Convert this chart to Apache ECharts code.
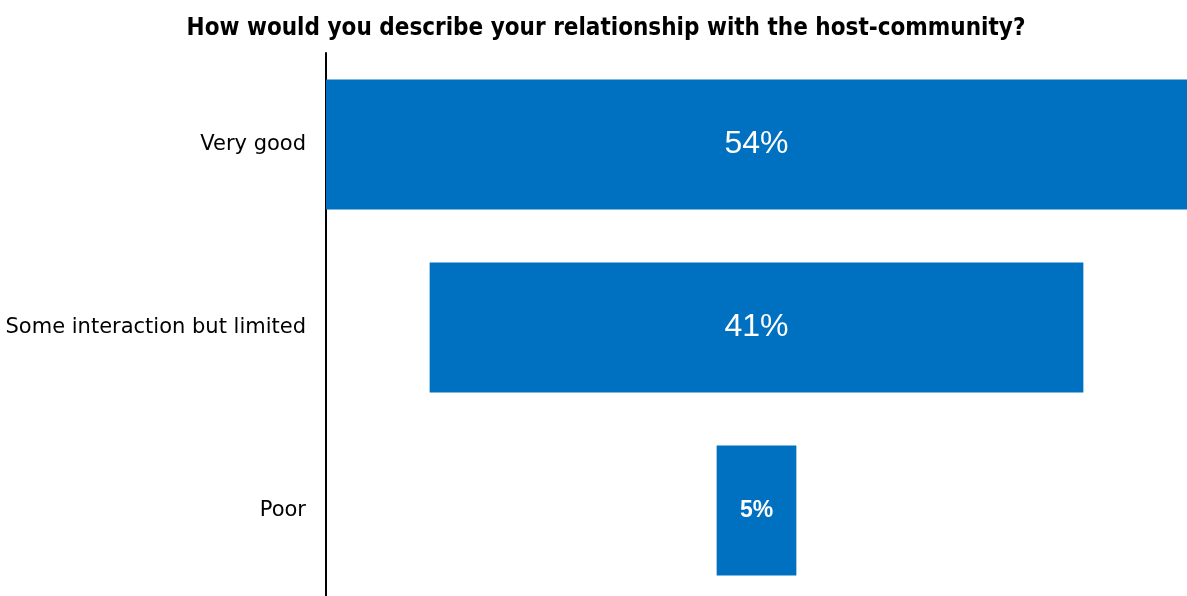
<!DOCTYPE html>
<html>
<head>
<meta charset="utf-8">
<script src="https://cdn.jsdelivr.net/npm/echarts@6/dist/echarts.min.js"></script>
<style>
  html, body { margin: 0; padding: 0; background: #fff; }
  #chart { width: 1187px; height: 596px; }
</style>
</head>
<body>
<div id="chart"></div>
<script>
// Survey answers, top to bottom
const categories = ['Very good', 'Some interaction but limited', 'Poor'];
const shares = [54, 41, 5];
const chartTitle = 'How would you describe your relationship with the host-community?';

const maxShare = Math.max(...shares);
// Transparent spacer so each bar sits centred on the widest one
const spacer = shares.map(v => (maxShare - v) / 2);

const chart = echarts.init(document.getElementById('chart'));
chart.setOption({
  animation: false,
  title: {
    text: chartTitle,
    left: 601,
    textAlign: 'center',
    top: 12,
    textStyle: {
      fontFamily: 'DejaVu Sans Condensed',
      fontWeight: 'bold',
      fontSize: 24,
      color: '#000'
    }
  },
  // the last band runs a little past the bottom edge
  grid: { left: 326, width: 861, top: 53, height: 549, outerBoundsMode: 'none' },
  xAxis: {
    type: 'value',
    min: 0,
    max: maxShare,
    show: false
  },
  yAxis: {
    type: 'category',
    inverse: true,
    data: categories,
    axisLine: { show: true, lineStyle: { color: '#000', width: 2 } },
    axisTick: { show: false },
    axisLabel: {
      margin: 20,
      fontFamily: 'DejaVu Sans',
      fontSize: 21,
      color: '#000'
    }
  },
  series: [
    {
      type: 'bar',
      stack: 'funnel',
      data: spacer,
      itemStyle: { color: 'transparent' },
      barWidth: '71%',
      silent: true
    },
    {
      type: 'bar',
      stack: 'funnel',
      data: shares.map(v => ({
        value: v,
        label: v < 10
          ? { fontSize: 23, fontWeight: 'bold' }
          : { fontSize: 32, fontWeight: 'normal' }
      })),
      itemStyle: { color: '#0070C0' },
      barWidth: '71%',
      label: {
        show: true,
        position: 'inside',
        color: '#fff',
        fontFamily: 'Liberation Sans',
        formatter: p => p.value + '%'
      }
    }
  ]
});
</script>
</body>
</html>
